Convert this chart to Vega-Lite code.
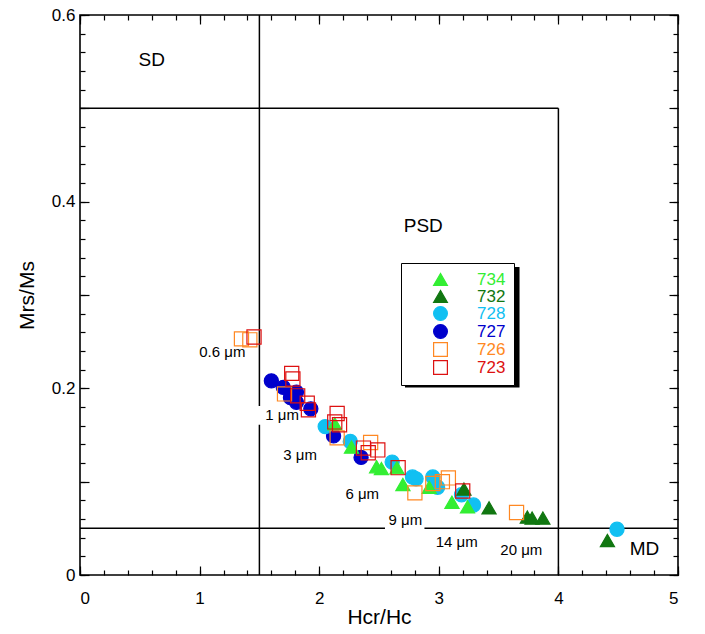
{
  "$schema": "https://vega.github.io/schema/vega-lite/v6.json",
  "width": 598,
  "height": 560,
  "autosize": {"type": "none"},
  "padding": {"left": 80, "top": 15, "right": 27, "bottom": 59},
  "background": "white",
  "config": {
    "font": "Liberation Sans",
    "view": {"stroke": "black", "strokeWidth": 1.6},
    "axis": {
      "domain": false,
      "ticks": true,
      "tickColor": "black",
      "tickWidth": 1.2,
      "labelColor": "black",
      "titleColor": "black",
      "grid": false,
      "labelFontSize": 17,
      "titleFontSize": 21,
      "titleFontWeight": "normal",
      "format": "~g"
    }
  },
  "datasets": {
    "boundaries": [
      {"x": 1.5, "x2": 1.5, "y": 0, "y2": 0.161},
      {"x": 1.5, "x2": 1.5, "y": 0.181, "y2": 0.6},
      {"x": 0, "x2": 4, "y": 0.5, "y2": 0.5},
      {"x": 4, "x2": 4, "y": 0, "y2": 0.5},
      {"x": 0, "x2": 2.55, "y": 0.05, "y2": 0.05},
      {"x": 2.88, "x2": 5, "y": 0.05, "y2": 0.05}
    ],
    "legendShadow": [
      {"x": 2.717, "x2": 3.675, "y": 0.201, "y2": 0.3301}
    ],
    "samples": [
      {"site": "727", "hcr": 1.60, "mrs": 0.208},
      {"site": "727", "hcr": 1.70, "mrs": 0.201},
      {"site": "727", "hcr": 1.81, "mrs": 0.196},
      {"site": "727", "hcr": 1.76, "mrs": 0.190},
      {"site": "727", "hcr": 1.81, "mrs": 0.185},
      {"site": "727", "hcr": 1.93, "mrs": 0.178},
      {"site": "727", "hcr": 2.12, "mrs": 0.149},
      {"site": "727", "hcr": 2.35, "mrs": 0.126},

      {"site": "728", "hcr": 2.05, "mrs": 0.159},
      {"site": "728", "hcr": 2.26, "mrs": 0.143},
      {"site": "728", "hcr": 2.61, "mrs": 0.121},
      {"site": "728", "hcr": 2.78, "mrs": 0.105},
      {"site": "728", "hcr": 2.81, "mrs": 0.103},
      {"site": "728", "hcr": 2.95, "mrs": 0.105},
      {"site": "728", "hcr": 2.99, "mrs": 0.094},
      {"site": "728", "hcr": 3.19, "mrs": 0.086},
      {"site": "728", "hcr": 3.29, "mrs": 0.075},
      {"site": "728", "hcr": 4.49, "mrs": 0.049},

      {"site": "734", "hcr": 2.13, "mrs": 0.162},
      {"site": "734", "hcr": 2.27, "mrs": 0.137},
      {"site": "734", "hcr": 2.48, "mrs": 0.116},
      {"site": "734", "hcr": 2.52, "mrs": 0.114},
      {"site": "734", "hcr": 2.65, "mrs": 0.115},
      {"site": "734", "hcr": 2.70, "mrs": 0.097},
      {"site": "734", "hcr": 2.92, "mrs": 0.094},
      {"site": "734", "hcr": 3.11, "mrs": 0.078},
      {"site": "734", "hcr": 3.24, "mrs": 0.073},

      {"site": "732", "hcr": 3.21, "mrs": 0.092},
      {"site": "732", "hcr": 3.42, "mrs": 0.072},
      {"site": "732", "hcr": 3.74, "mrs": 0.062},
      {"site": "732", "hcr": 3.78, "mrs": 0.061},
      {"site": "732", "hcr": 3.87, "mrs": 0.061},
      {"site": "732", "hcr": 4.41, "mrs": 0.037},

      {"site": "726", "hcr": 1.35, "mrs": 0.253},
      {"site": "726", "hcr": 1.42, "mrs": 0.252},
      {"site": "726", "hcr": 1.71, "mrs": 0.194},
      {"site": "726", "hcr": 2.15, "mrs": 0.147},
      {"site": "726", "hcr": 2.43, "mrs": 0.142},
      {"site": "726", "hcr": 2.80, "mrs": 0.088},
      {"site": "726", "hcr": 2.95, "mrs": 0.098},
      {"site": "726", "hcr": 3.03, "mrs": 0.100},
      {"site": "726", "hcr": 3.08, "mrs": 0.104},
      {"site": "726", "hcr": 3.65, "mrs": 0.067},

      {"site": "723", "hcr": 1.455, "mrs": 0.255},
      {"site": "723", "hcr": 1.77, "mrs": 0.216},
      {"site": "723", "hcr": 1.78, "mrs": 0.210},
      {"site": "723", "hcr": 1.82, "mrs": 0.192},
      {"site": "723", "hcr": 1.90, "mrs": 0.184},
      {"site": "723", "hcr": 1.91, "mrs": 0.177},
      {"site": "723", "hcr": 2.15, "mrs": 0.173},
      {"site": "723", "hcr": 2.13, "mrs": 0.164},
      {"site": "723", "hcr": 2.17, "mrs": 0.161},
      {"site": "723", "hcr": 2.37, "mrs": 0.136},
      {"site": "723", "hcr": 2.41, "mrs": 0.131},
      {"site": "723", "hcr": 2.49, "mrs": 0.134},
      {"site": "723", "hcr": 2.66, "mrs": 0.115},
      {"site": "723", "hcr": 3.20, "mrs": 0.090}
    ],
    "regions": [
      {"label": "SD", "x": 0.60, "y": 0.552},
      {"label": "PSD", "x": 2.87, "y": 0.374},
      {"label": "MD", "x": 4.72, "y": 0.028}
    ],
    "grains": [
      {"label": "0.6 μm", "x": 1.19, "y": 0.239},
      {"label": "1  μm", "x": 1.69, "y": 0.171},
      {"label": "3 μm", "x": 1.84, "y": 0.129},
      {"label": "6 μm", "x": 2.36, "y": 0.087},
      {"label": "9 μm", "x": 2.72, "y": 0.059},
      {"label": "14 μm", "x": 3.15, "y": 0.035},
      {"label": "20 μm", "x": 3.69, "y": 0.027}
    ]
  },
  "layer": [
    {
      "data": {"name": "boundaries"},
      "mark": {"type": "rule", "color": "black", "strokeWidth": 1.5},
      "encoding": {
        "x": {
          "field": "x", "type": "quantitative",
          "scale": {"domain": [0, 5], "nice": false, "zero": false},
          "axis": {
            "orient": "top", "title": null, "labels": false,
            "offset": -5, "tickSize": 5,
            "values": [0,0.2,0.4,0.6,0.8,1,1.2,1.4,1.6,1.8,2,2.2,2.4,2.6,2.8,3,3.2,3.4,3.6,3.8,4,4.2,4.4,4.6,4.8,5]
          }
        },
        "x2": {"field": "x2"},
        "y": {
          "field": "y", "type": "quantitative",
          "scale": {"domain": [0, 0.6], "nice": false, "zero": false},
          "axis": {
            "orient": "right", "title": null, "labels": false,
            "offset": -5, "tickSize": 5,
            "values": [0,0.02,0.04,0.06,0.08,0.1,0.12,0.14,0.16,0.18,0.2,0.22,0.24,0.26,0.28,0.3,0.32,0.34,0.36,0.38,0.4,0.42,0.44,0.46,0.48,0.5,0.52,0.54,0.56,0.58,0.6]
          }
        },
        "y2": {"field": "y2"}
      }
    },
    {
      "data": {"name": "legendShadow"},
      "mark": {"type": "rect", "color": "black"},
      "encoding": {
        "x": {"field": "x", "type": "quantitative", "axis": null},
        "x2": {"field": "x2"},
        "y": {"field": "y", "type": "quantitative", "axis": null},
        "y2": {"field": "y2"}
      }
    },
    {
      "data": {"name": "samples"},
      "mark": {"type": "point", "strokeWidth": 1.2, "opacity": 1},
      "encoding": {
        "x": {
          "field": "hcr", "type": "quantitative",
          "scale": {"domain": [0, 5], "nice": false, "zero": false},
          "axis": {
            "orient": "bottom", "title": "Hcr/Hc", "titlePadding": 0,
            "offset": -5, "tickSize": 5, "labelPadding": 15,
            "values": [0,0.2,0.4,0.6,0.8,1,1.2,1.4,1.6,1.8,2,2.2,2.4,2.6,2.8,3,3.2,3.4,3.6,3.8,4,4.2,4.4,4.6,4.8,5],
            "labelExpr": "abs(datum.value - round(datum.value)) < 1e-6 ? datum.label : ''"
          }
        },
        "y": {
          "field": "mrs", "type": "quantitative",
          "scale": {"domain": [0, 0.6], "nice": false, "zero": false},
          "axis": {
            "orient": "left", "title": "Mrs/Ms", "titlePadding": 14,
            "offset": -5, "tickSize": 5, "labelPadding": 5,
            "values": [0,0.02,0.04,0.06,0.08,0.1,0.12,0.14,0.16,0.18,0.2,0.22,0.24,0.26,0.28,0.3,0.32,0.34,0.36,0.38,0.4,0.42,0.44,0.46,0.48,0.5,0.52,0.54,0.56,0.58,0.6],
            "labelExpr": "abs(datum.value * 5 - round(datum.value * 5)) < 1e-6 ? datum.label : ''"
          }
        },
        "shape": {
          "field": "site", "type": "nominal",
          "scale": {
            "domain": ["734", "732", "728", "727", "726", "723"],
            "range": ["triangle-up", "triangle-up", "circle", "circle", "square", "square"]
          },
          "legend": {
            "title": null,
            "orient": "none",
            "legendX": 321,
            "legendY": 248,
            "strokeColor": "black",
            "fillColor": "white",
            "padding": 8,
            "labelFontSize": 17,
            "labelColor": {"expr": "scale('stroke', datum.value)"},
            "symbolSize": 190,
            "symbolStrokeWidth": 1.2,
            "rowPadding": -2.5,
            "symbolOffset": 23,
            "labelOffset": 28
          }
        },
        "stroke": {
          "field": "site", "type": "nominal",
          "scale": {
            "domain": ["734", "732", "728", "727", "726", "723"],
            "range": ["#33ee33", "#117711", "#11c0f2", "#0000cc", "#ff8822", "#dd1111"]
          },
          "legend": null
        },
        "fill": {
          "field": "site", "type": "nominal",
          "scale": {
            "domain": ["734", "732", "728", "727", "726", "723"],
            "range": ["#33ee33", "#117711", "#11c0f2", "#0000cc", "transparent", "transparent"]
          },
          "legend": null
        },
        "size": {"value": 200}
      }
    },
    {
      "data": {"name": "regions"},
      "mark": {"type": "text", "fontSize": 19, "color": "black", "align": "center", "baseline": "middle"},
      "encoding": {
        "x": {
          "field": "x", "type": "quantitative",
          "axis": {
            "orient": "bottom", "title": null, "labels": false,
            "offset": -9, "tickSize": 9,
            "values": [0, 1, 2, 3, 4, 5]
          }
        },
        "y": {
          "field": "y", "type": "quantitative",
          "axis": {
            "orient": "left", "title": null, "labels": false,
            "offset": -9, "tickSize": 9,
            "values": [0, 0.1, 0.2, 0.3, 0.4, 0.5, 0.6]
          }
        },
        "text": {"field": "label"}
      }
    },
    {
      "data": {"name": "grains"},
      "mark": {"type": "text", "fontSize": 15, "color": "black", "align": "center", "baseline": "middle"},
      "encoding": {
        "x": {
          "field": "x", "type": "quantitative",
          "axis": {
            "orient": "top", "title": null, "labels": false,
            "offset": -9, "tickSize": 9,
            "values": [0, 1, 2, 3, 4, 5]
          }
        },
        "y": {
          "field": "y", "type": "quantitative",
          "axis": {
            "orient": "right", "title": null, "labels": false,
            "offset": -9, "tickSize": 9,
            "values": [0, 0.1, 0.2, 0.3, 0.4, 0.5, 0.6]
          }
        },
        "text": {"field": "label"}
      }
    }
  ],
  "resolve": {"axis": {"x": "independent", "y": "independent"}}
}
